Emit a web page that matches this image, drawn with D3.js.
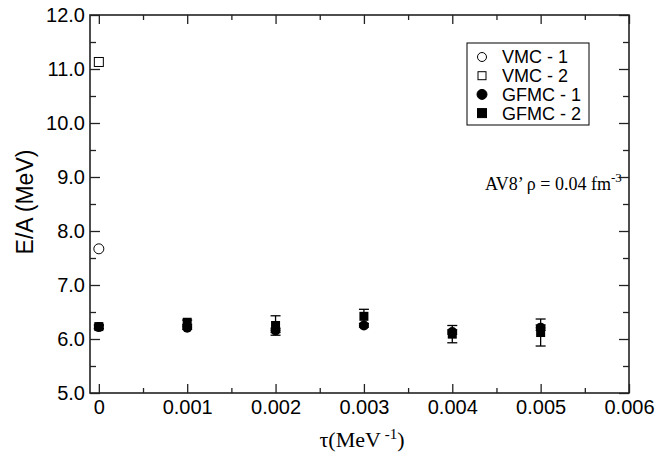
<!DOCTYPE html>
<html>
<head>
<meta charset="utf-8">
<script src="https://cdn.jsdelivr.net/npm/d3@7"></script>
<style>
  body { margin: 0; background: #fff; }
  svg text { fill: #000; }
</style>
</head>
<body>
<svg id="chart" width="672" height="454"></svg>
<script>
// 数据
const tauValues = [0, 0.001, 0.002, 0.003, 0.004, 0.005];
const gfmc1 = [6.22, 6.21, 6.16, 6.25, 6.13, 6.21];
const gfmc1Err = [0.03, 0.03, 0.04, 0.03, 0.04, 0.05];
const gfmc2 = [6.23, 6.31, 6.25, 6.42, 6.09, 6.12];
const gfmc2Err = [0.04, 0.04, 0.18, 0.13, 0.16, 0.25];
const vmc1 = [{ tau: 0, e: 7.67 }];
const vmc2 = [{ tau: 0, e: 11.13 }];
const xTicks = [0, 0.001, 0.002, 0.003, 0.004, 0.005, 0.006];
const xTickLabels = ['0', '0.001', '0.002', '0.003', '0.004', '0.005', '0.006'];
const yTicks = [5, 6, 7, 8, 9, 10, 11, 12];
const legendItems = ['VMC - 1', 'VMC - 2', 'GFMC - 1', 'GFMC - 2'];

const svg = d3.select('#chart');
const margin = { left: 90, right: 43, top: 15, bottom: 61 };
const W = 672, H = 454;

const x = d3.scaleLinear().domain([-0.0001, 0.006]).range([margin.left, W - margin.right]);
const y = d3.scaleLinear().domain([5, 12]).range([H - margin.bottom, margin.top]);

const sans = 'Arial, "Liberation Sans", Helvetica, sans-serif';
const serif = '"Times New Roman", "Liberation Serif", Times, serif';

// 刻度（向内）
const xMinor = d3.range(0.0005, 0.006, 0.001);
const yMinor = d3.range(5.5, 12, 1);

function drawAxis(axisFn, scale, ticks, size, transform, fmt) {
  const g = svg.append('g').attr('transform', transform)
    .call(axisFn(scale).tickValues(ticks).tickSize(size).tickFormat(fmt || ''));
  g.select('.domain').remove();
  g.selectAll('line').attr('stroke', '#222').attr('stroke-width', 1.3);
  return g;
}

const bottomY = H - margin.bottom;
const gx = drawAxis(d3.axisBottom, x, xTicks, -9, `translate(0,${bottomY})`, (d, i) => xTickLabels[i]);
gx.selectAll('text').attr('y', 7).attr('dy', '0.71em')
  .style('font-family', sans).style('font-size', '20px');
drawAxis(d3.axisBottom, x, xMinor, -5, `translate(0,${bottomY})`);
drawAxis(d3.axisTop, x, xTicks, -9, `translate(0,${margin.top})`);
drawAxis(d3.axisTop, x, xMinor, -5, `translate(0,${margin.top})`);

const gy = drawAxis(d3.axisLeft, y, yTicks, -10, `translate(${margin.left},0)`, d3.format('.1f'));
gy.selectAll('text').attr('x', -5)
  .style('font-family', sans).style('font-size', '20px');
drawAxis(d3.axisLeft, y, yMinor, -6, `translate(${margin.left},0)`);
drawAxis(d3.axisRight, y, yTicks, -10, `translate(${W - margin.right},0)`);
drawAxis(d3.axisRight, y, yMinor, -6, `translate(${W - margin.right},0)`);

// 边框
svg.append('rect')
  .attr('x', margin.left).attr('y', margin.top)
  .attr('width', W - margin.left - margin.right)
  .attr('height', H - margin.top - margin.bottom)
  .attr('fill', 'none').attr('stroke', '#222').attr('stroke-width', 1.6);

// 轴标题
svg.append('text')
  .attr('transform', 'translate(33,202) rotate(-90)')
  .attr('text-anchor', 'middle')
  .style('font-family', sans).style('font-size', '23px')
  .text('E/A (MeV)');

const xt = svg.append('text')
  .attr('x', 362).attr('y', 447)
  .attr('text-anchor', 'middle')
  .style('font-family', serif).style('font-size', '22px');
xt.append('tspan').text('τ(MeV');
xt.append('tspan').attr('dy', -8).style('font-size', '15px').text(' -1');
xt.append('tspan').attr('dy', 8).text(')');

// 误差棒
const capW = 5;
function errorBars(vals, errs) {
  const g = svg.append('g').attr('stroke', '#000').attr('stroke-width', 1.3);
  tauValues.forEach((t, i) => {
    const cx = x(t), y0 = y(vals[i] - errs[i]), y1 = y(vals[i] + errs[i]);
    g.append('line').attr('x1', cx).attr('x2', cx).attr('y1', y0).attr('y2', y1);
    g.append('line').attr('x1', cx - capW).attr('x2', cx + capW).attr('y1', y0).attr('y2', y0);
    g.append('line').attr('x1', cx - capW).attr('x2', cx + capW).attr('y1', y1).attr('y2', y1);
  });
}
errorBars(gfmc2, gfmc2Err);
errorBars(gfmc1, gfmc1Err);

const sq = 9, rad = 5;
// GFMC - 1 实心圆
svg.append('g').selectAll('circle').data(tauValues).join('circle')
  .attr('cx', d => x(d)).attr('cy', (d, i) => y(gfmc1[i])).attr('r', rad)
  .attr('fill', '#000');
// GFMC - 2 实心方块
svg.append('g').selectAll('rect').data(tauValues).join('rect')
  .attr('x', d => x(d) - sq / 2).attr('y', (d, i) => y(gfmc2[i]) - sq / 2)
  .attr('width', sq).attr('height', sq).attr('fill', '#000');
// VMC 空心
svg.append('g').selectAll('circle').data(vmc1).join('circle')
  .attr('cx', d => x(d.tau)).attr('cy', d => y(d.e)).attr('r', rad)
  .attr('fill', '#fff').attr('stroke', '#000').attr('stroke-width', 1);
svg.append('g').selectAll('rect').data(vmc2).join('rect')
  .attr('x', d => x(d.tau) - sq / 2).attr('y', d => y(d.e) - sq / 2)
  .attr('width', sq).attr('height', sq)
  .attr('fill', '#fff').attr('stroke', '#000').attr('stroke-width', 1);

// 图例
const lg = svg.append('g').attr('transform', 'translate(467,43)');
lg.append('rect').attr('width', 122).attr('height', 82)
  .attr('fill', '#fff').attr('stroke', '#000').attr('stroke-width', 1);
legendItems.forEach((name, i) => {
  const cy = 14 + i * 18.7;
  const filled = i >= 2;
  if (i % 2 === 0) {
    lg.append('circle').attr('cx', 15).attr('cy', cy).attr('r', filled ? 5 : 4.5)
      .attr('fill', filled ? '#000' : '#fff').attr('stroke', '#000').attr('stroke-width', 1);
  } else {
    const s = filled ? 9 : 8;
    lg.append('rect').attr('x', 15 - s / 2).attr('y', cy - s / 2).attr('width', s).attr('height', s)
      .attr('fill', filled ? '#000' : '#fff').attr('stroke', '#000').attr('stroke-width', 1);
  }
  lg.append('text').attr('x', 35).attr('y', cy).attr('dy', '0.36em')
    .style('font-family', sans).style('font-size', '18px').text(name);
});

// 注释
const ann = svg.append('text').attr('x', 485).attr('y', 190)
  .style('font-family', serif).style('font-size', '18px');
ann.append('tspan').text('AV8’ ρ = 0.04 fm');
ann.append('tspan').attr('dy', -8).style('font-size', '13px').text('-3');
</script>
</body>
</html>
